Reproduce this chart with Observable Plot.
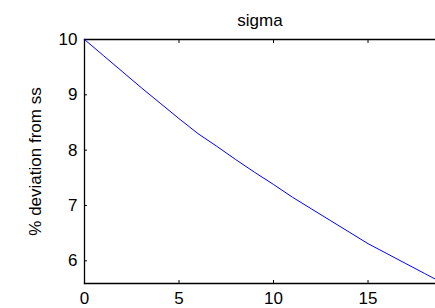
<!DOCTYPE html>
<html>
<head>
<meta charset="utf-8">
<script src="https://cdn.jsdelivr.net/npm/d3@7"></script>
<script src="https://cdn.jsdelivr.net/npm/@observablehq/plot@0.6"></script>
<style>
  html, body { margin: 0; padding: 0; background: #fff; }
  svg { display: block; }
</style>
</head>
<body>
<div id="chart"></div>
<script>
const periods = [0,1,2,3,4,5,6,7,8,9,10,11,12,13,14,15,16,17,18,19,20];
const sigma = [10.00,9.71,9.42,9.13,8.85,8.57,8.30,8.07,7.83,7.60,7.38,7.15,6.94,6.73,6.52,6.31,6.13,5.95,5.77,5.59,5.42];
const xTicks = [0,5,10,15];
const yTicks = [6,7,8,9,10];
const title = "sigma";
const yLabel = "% deviation from ss";

const data = periods.map((p, i) => ({p, v: sigma[i]}));
const font = "Liberation Sans, Arial, Helvetica, sans-serif";

const chart = Plot.plot({
  width: 435,
  height: 308,
  marginLeft: 84,
  marginRight: 0,
  marginTop: 39,
  marginBottom: 25,
  style: {fontFamily: font, fontSize: "17px", color: "#000", background: "#fff"},
  x: {domain: [0, 18.57], ticks: xTicks},
  y: {domain: [5.59, 10], ticks: yTicks},
  marks: [
    Plot.frame({anchor: "left", stroke: "#000", strokeWidth: 1.3}),
    Plot.frame({anchor: "top", stroke: "#000", strokeWidth: 1.3}),
    Plot.frame({anchor: "bottom", stroke: "#000", strokeWidth: 1.3}),
    Plot.axisX({anchor: "bottom", ticks: xTicks, tickSize: -3, tickPadding: 11, tickFormat: d3.format("d"), label: null, fontSize: 17}),
    Plot.axisX({anchor: "top", ticks: xTicks, tickSize: -3, tickFormat: () => "", label: null}),
    Plot.axisY({anchor: "left", ticks: yTicks, tickSize: -3, tickPadding: 10, tickFormat: d3.format("d"), label: yLabel, labelAnchor: "center", labelArrow: "none", labelOffset: 56, fontSize: 17}),
    Plot.lineY(data, {x: "p", y: "v", stroke: "#0000ff", strokeWidth: 1, clip: true}),
    Plot.text([title], {frameAnchor: "top", dy: -14, lineAnchor: "bottom", fontSize: 17, text: d => d})
  ]
});
document.getElementById("chart").appendChild(chart);
</script>
</body>
</html>
